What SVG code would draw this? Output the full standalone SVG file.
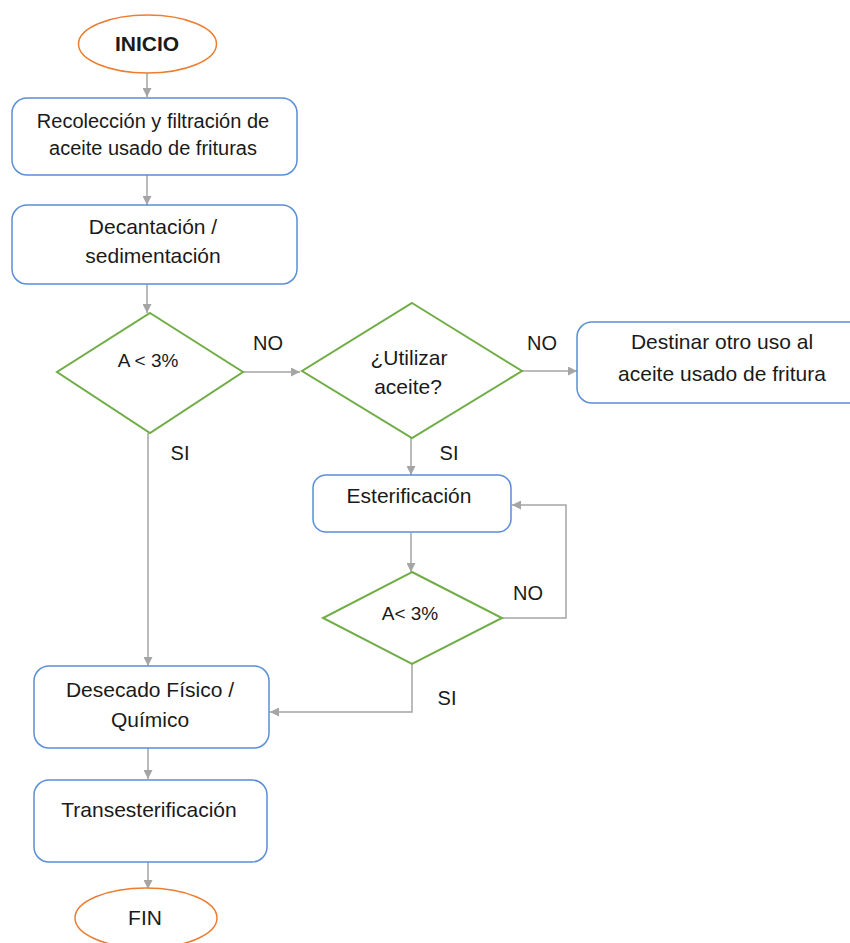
<svg xmlns="http://www.w3.org/2000/svg" width="850" height="943" viewBox="0 0 850 943">
<style>
text{font-family:"Liberation Sans",Arial,sans-serif;fill:#1a1a1a;text-anchor:middle}
.t{font-size:21px}
.s{font-size:20px}
.d{font-size:19px}
.term{fill:#fff;stroke:#ED7D31;stroke-width:1.5}
.box{fill:#fff;stroke:#5B8FD6;stroke-width:1.5}
.dec{fill:#fff;stroke:#70AD47;stroke-width:2}
.c{fill:none;stroke:#A5A5A5;stroke-width:1.5}
</style>
<defs>
<marker id="ah" viewBox="0 0 10 10" refX="10" refY="5" markerWidth="9" markerHeight="9" markerUnits="userSpaceOnUse" orient="auto">
<path d="M0,0 L10,5 L0,10 z" fill="#A5A5A5"/>
</marker>
</defs>
<rect width="850" height="943" fill="#fff"/>
<g id="connectors">
<path class="c" d="M147,73 V97" marker-end="url(#ah)"/>
<path class="c" d="M147,175 V205" marker-end="url(#ah)"/>
<path class="c" d="M147,284 V313" marker-end="url(#ah)"/>
<path class="c" d="M243,372 H300" marker-end="url(#ah)"/>
<path class="c" d="M522,371 H577" marker-end="url(#ah)"/>
<path class="c" d="M411,438 V475" marker-end="url(#ah)"/>
<path class="c" d="M411,533 V572" marker-end="url(#ah)"/>
<path class="c" d="M502,618 H566 V505 H512" marker-end="url(#ah)"/>
<path class="c" d="M412,664 V712 H270" marker-end="url(#ah)"/>
<path class="c" d="M148,433 V666" marker-end="url(#ah)"/>
<path class="c" d="M148,748 V779" marker-end="url(#ah)"/>
<path class="c" d="M148,862 V889" marker-end="url(#ah)"/>
<text class="s" x="268" y="350">NO</text>
<text class="s" x="542" y="350">NO</text>
<text class="s" x="180" y="460">SI</text>
<text class="s" x="449" y="460">SI</text>
<text class="s" x="528" y="600">NO</text>
<text class="s" x="447" y="705">SI</text>
</g>
<g id="inicio">
<ellipse class="term" cx="147.5" cy="44" rx="69" ry="29"/>
<text class="t" x="147" y="51" font-weight="bold">INICIO</text>
</g>
<g id="recoleccion">
<rect class="box" x="12" y="98" width="285" height="77" rx="15"/>
<text class="s" x="153" y="128">Recolección y filtración de</text>
<text class="s" x="153" y="155">aceite usado de frituras</text>
</g>
<g id="decantacion">
<rect class="box" x="12" y="205" width="285" height="79" rx="15"/>
<text class="t" x="153" y="234">Decantación /</text>
<text class="t" x="153" y="263">sedimentación</text>
</g>
<g id="dec1">
<polygon class="dec" points="150,313 243,372 150,433 57,372"/>
<text class="d" x="148" y="367">A &lt; 3%</text>
</g>
<g id="dec2">
<polygon class="dec" points="412,303 522,371 412,438 302,371"/>
<text class="t" x="409" y="365">¿Utilizar</text>
<text class="t" x="408" y="394">aceite?</text>
</g>
<g id="destinar">
<rect class="box" x="577" y="322" width="290" height="81" rx="15"/>
<text class="t" x="722" y="349">Destinar otro uso al</text>
<text class="t" x="722" y="381">aceite usado de fritura</text>
</g>
<g id="esterificacion">
<rect class="box" x="313" y="475" width="198" height="57" rx="13"/>
<text class="t" x="409" y="503">Esterificación</text>
</g>
<g id="dec3">
<polygon class="dec" points="412,572 502,618 412,664 323,618"/>
<text class="d" x="410" y="620">A&lt; 3%</text>
</g>
<g id="desecado">
<rect class="box" x="34" y="666" width="235" height="82" rx="15"/>
<text class="t" x="150" y="697">Desecado Físico /</text>
<text class="t" x="150" y="727">Químico</text>
</g>
<g id="transesterificacion">
<rect class="box" x="34" y="780" width="233" height="82" rx="15"/>
<text class="t" x="149" y="817">Transesterificación</text>
</g>
<g id="fin">
<ellipse class="term" cx="146" cy="918" rx="71" ry="30"/>
<text class="t" x="145" y="925">FIN</text>
</g>
</svg>
